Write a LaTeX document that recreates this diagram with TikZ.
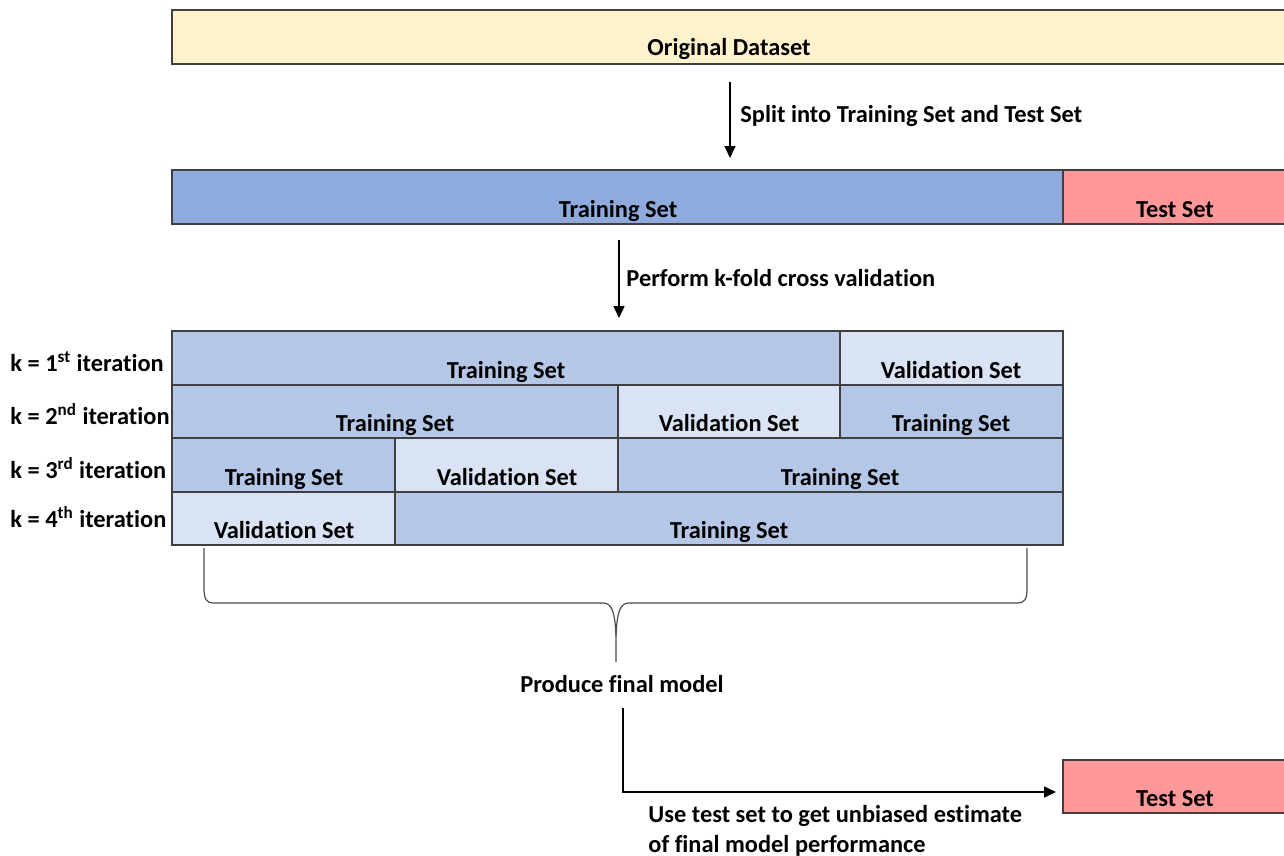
\documentclass[tikz,border=0pt]{standalone}
\usepackage{fontspec}
\setmainfont[Ligatures=NoCommon]{Carlito}
\usetikzlibrary{arrows.meta,calc,fit}
\definecolor{origc}{HTML}{FFF2CC}
\definecolor{trainbar}{HTML}{8FAADC}
\definecolor{testc}{HTML}{FF9999}
\definecolor{trainc}{HTML}{B4C7E7}
\definecolor{valc}{HTML}{DAE3F3}
\definecolor{boxline}{HTML}{404040}
\begin{document}
\begin{tikzpicture}[x=0.5pt,y=-0.5pt,
  font=\fontsize{12.2}{14}\selectfont\bfseries,
  box/.style={draw=boxline, line width=0.6pt, inner sep=0pt},
  txt/.style={anchor=base, inner sep=0pt},
  ltxt/.style={anchor=base west, inner sep=0pt},
  arr/.style={-{Triangle[length=6pt,width=5.5pt]}, line width=0.8pt},
  brace/.style={draw=black!70, line width=0.6pt}]
\useasboundingbox (0,0) rectangle (1284,856);

% original dataset
\node[box, fill=origc, fit={(172,10) (1300,64)}] (orig) {};
\node[txt] (origt) at (729,56) {Original Dataset};

% split
\coordinate (a1s) at (730,82);
\coordinate (a1e) at (730,158);
\draw[arr] (a1s) -- (a1e);
\node[ltxt] (l1) at (740,123) {Split into Training Set and Test Set};

\node[box, fill=trainbar, fit={(172,170) (1063,224)}] (train) {};
\node[box, fill=testc, fit={(1063,170) (1300,224)}] (test) {};
\node[txt] at (618,217) {Training Set};
\node[txt] at (1175,217) {Test Set};

% k-fold
\coordinate (a2s) at (619,240);
\coordinate (a2e) at (619,318);
\draw[arr] (a2s) -- (a2e);
\node[ltxt] (l2) at (626,286) {Perform k-fold cross validation};

% grid
\node[box, fill=trainc, fit={(172,331) (840,385)}] (r1a) {};
\node[box, fill=valc,   fit={(840,331) (1063,385)}] (r1b) {};
\node[txt] at (506,378) {Training Set};
\node[txt] at (951,378) {Validation Set};

\node[box, fill=trainc, fit={(172,385) (618,438)}] (r2a) {};
\node[box, fill=valc,   fit={(618,385) (840,438)}] (r2b) {};
\node[box, fill=trainc, fit={(840,385) (1063,438)}] (r2c) {};
\node[txt] at (395,431) {Training Set};
\node[txt] at (729,431) {Validation Set};
\node[txt] at (951,431) {Training Set};

\node[box, fill=trainc, fit={(172,438) (395,492)}] (r3a) {};
\node[box, fill=valc,   fit={(395,438) (618,492)}] (r3b) {};
\node[box, fill=trainc, fit={(618,438) (1063,492)}] (r3c) {};
\node[txt] at (284,485) {Training Set};
\node[txt] at (507,485) {Validation Set};
\node[txt] at (840,485) {Training Set};

\node[box, fill=valc,   fit={(172,492) (395,545)}] (r4a) {};
\node[box, fill=trainc, fit={(395,492) (1063,545)}] (r4b) {};
\node[txt] at (284,538) {Validation Set};
\node[txt] at (729,538) {Training Set};

% iteration labels
\node[ltxt] at (10,371) {k = 1\textsuperscript{st} iteration};
\node[ltxt] at (10,424) {k = 2\textsuperscript{nd} iteration};
\node[ltxt] at (10,478) {k = 3\textsuperscript{rd} iteration};
\node[ltxt] at (10,527) {k = 4\textsuperscript{th} iteration};

% brace
\draw[brace] (204,548) -- (204,588) .. controls (204,599) and (206,603) .. (214,603)
  -- (603,603) .. controls (612,603) and (615,612) .. (616,636) -- (616,662);
\draw[brace] (1027,548) -- (1027,588) .. controls (1027,599) and (1025,603) .. (1017,603)
  -- (629,603) .. controls (620,603) and (617,612) .. (616,636);

\node[txt] (pfm) at (622,692) {Produce final model};

% final test
\node[box, fill=testc, fit={(1063,760) (1300,813)}] (test2) {};
\node[txt] at (1175,806) {Test Set};
\coordinate (a3s) at (623,708);
\coordinate (a3e) at (1056,792);
\draw[arr] (a3s) |- (a3e);
\node[ltxt] at (648,822) {Use test set to get unbiased estimate};
\node[ltxt] at (648,852) {of final model performance};
\end{tikzpicture}
\end{document}
